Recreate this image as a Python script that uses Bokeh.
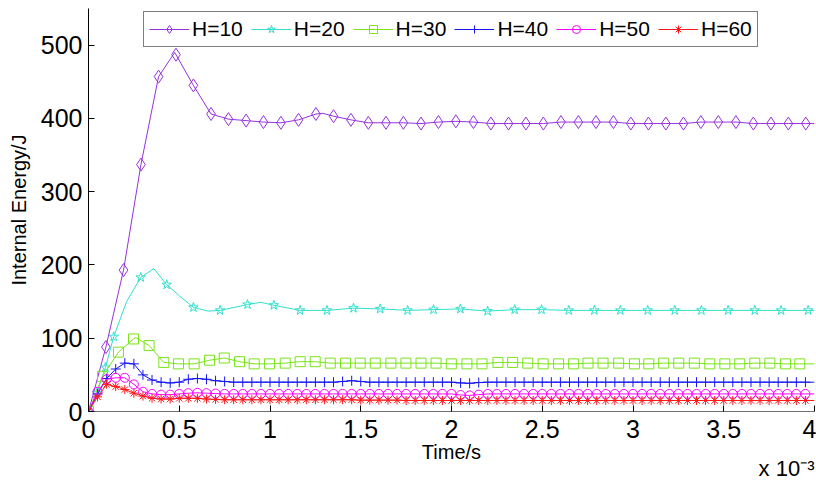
from bokeh.plotting import figure
from bokeh.models import Range1d, FixedTicker, Legend, LegendItem, Title
from bokeh.embed import file_html
from bokeh.resources import INLINE

# Time axis in units of 1e-3 s
T10 = [0.000, 0.096, 0.193, 0.289, 0.386, 0.482, 0.578, 0.675, 0.771, 0.868,
       0.964, 1.060, 1.157, 1.253, 1.350, 1.446, 1.542, 1.639, 1.735, 1.832,
       1.928, 2.024, 2.121, 2.217, 2.314, 2.410, 2.506, 2.603, 2.699, 2.796,
       2.892, 2.988, 3.085, 3.181, 3.278, 3.374, 3.470, 3.567, 3.663, 3.760,
       3.856, 3.952]
E10 = [0, 88, 193, 337, 457, 487, 445, 406, 399, 397,
       395, 394, 398, 406, 403, 398, 394, 394, 394, 393,
       395, 396, 395, 393, 393, 393, 393, 395, 395, 395,
       395, 393, 393, 393, 393, 395, 395, 395, 393, 393,
       393, 393]
T10_extra = [0.475, 1.29, 4.0]
E10_extra = [490, 407, 393]

T20 = [0.000, 0.046, 0.093, 0.139, 0.288, 0.431, 0.578, 0.725, 0.876, 1.021,
       1.166, 1.314, 1.460, 1.607, 1.758, 1.901, 2.049, 2.199, 2.348, 2.496,
       2.646, 2.787, 2.930, 3.081, 3.230, 3.377, 3.524, 3.671, 3.816, 3.965]
E20 = [0, 25, 60, 102, 183, 173, 142, 138, 146, 145,
       138, 138, 141, 140, 138, 139, 140, 137, 139, 139,
       138, 138, 138, 138, 138, 138, 138, 138, 138, 138]
T20_extra = [0.21, 0.36, 0.50, 0.66, 0.95, 4.0]
E20_extra = [150, 195, 158, 137, 149, 138]

T30 = [0.000, 0.077, 0.165, 0.248, 0.334, 0.415, 0.496, 0.582, 0.667, 0.748,
       0.832, 0.913, 0.997, 1.084, 1.166, 1.249, 1.332, 1.416, 1.497, 1.580,
       1.666, 1.749, 1.832, 1.915, 1.999, 2.085, 2.168, 2.256, 2.337, 2.420,
       2.505, 2.590, 2.673, 2.752, 2.835, 2.921, 3.008, 3.087, 3.169, 3.252,
       3.338, 3.423, 3.506, 3.588, 3.671, 3.754, 3.840, 3.919]
E30 = [0, 48, 81, 99, 90, 67, 65, 65, 70, 73,
       68, 65, 65, 66, 68, 68, 66, 66, 66, 66,
       66, 66, 66, 66, 65, 65, 65, 67, 67, 66,
       65, 65, 65, 66, 66, 66, 65, 65, 66, 66,
       66, 65, 65, 65, 66, 66, 65, 65]
T30_extra = [0.26, 4.0]
E30_extra = [101, 65]

T_DENSE = [0.00, 0.05, 0.10, 0.15, 0.20, 0.25, 0.30, 0.35, 0.40, 0.45,
           0.50, 0.55, 0.60, 0.65, 0.70, 0.75, 0.80, 0.85, 0.90, 0.95,
           1.00, 1.05, 1.10, 1.15, 1.20, 1.25, 1.30, 1.35, 1.40, 1.45,
           1.50, 1.55, 1.60, 1.65, 1.70, 1.75, 1.80, 1.85, 1.90, 1.95,
           2.00, 2.05, 2.10, 2.15, 2.20, 2.25, 2.30, 2.35, 2.40, 2.45,
           2.50, 2.55, 2.60, 2.65, 2.70, 2.75, 2.80, 2.85, 2.90, 2.95,
           3.00, 3.05, 3.10, 3.15, 3.20, 3.25, 3.30, 3.35, 3.40, 3.45,
           3.50, 3.55, 3.60, 3.65, 3.70, 3.75, 3.80, 3.85, 3.90, 3.95]
E40 = [0, 24, 45, 58, 66, 65, 50, 43, 40, 39,
       40, 44, 45, 44, 42, 41, 40, 40, 40, 40,
       40, 40, 40, 40, 40, 40, 40, 40, 41, 42,
       41, 40, 40, 40, 40, 40, 40, 40, 40, 40,
       40, 39, 38.5, 39.5, 40, 40, 40, 40, 40, 40,
       40, 40, 40, 40, 40, 40, 40, 40, 40, 40,
       40, 40, 40, 40, 40, 40, 40, 40, 40, 40,
       40, 40, 40, 40, 40, 40, 40, 40, 40, 40]
E50 = [0, 27, 44, 46, 46, 37, 27, 24, 23, 23,
       24, 25, 25.5, 25, 24.5, 24, 24, 24, 24, 24,
       24, 24, 24, 24, 24, 24, 24, 24, 24, 24,
       24, 24, 24, 24, 24, 24, 24, 24, 24, 24,
       24, 22.5, 22, 23, 24, 24, 24, 24, 24, 24,
       24, 24, 24, 24, 24, 24, 24, 24, 24, 24,
       24, 24, 24, 24, 24, 24, 24, 24, 24, 24,
       24, 24, 24, 24, 24, 24, 24, 24, 24, 24]
E60 = [0, 20, 37, 34, 30, 25, 21, 18, 17, 17,
       18, 18, 18, 17, 16.5, 16, 16, 16, 16, 16,
       16, 16, 16, 16, 16, 16, 16, 16, 16, 16,
       15.5, 15.5, 15.5, 15.5, 15.5, 15, 15, 15, 15, 15,
       15, 15, 15, 15, 15, 15, 15, 15, 15, 15,
       15, 15, 15, 15, 15, 15, 15, 15, 15, 15,
       15, 15, 15, 15, 15, 15, 15, 15, 15, 15,
       15, 15, 15, 15, 15, 15, 15, 15, 15, 15]
T_DENSE_extra = [4.0]
E40_extra = [40]
E50_extra = [24]
E60_extra = [15]

LABELS = ["H=10", "H=20", "H=30", "H=40", "H=50", "H=60"]
X_TICKS = [0, 0.5, 1, 1.5, 2, 2.5, 3, 3.5, 4]
X_TICK_LABELS = ["0", "0.5", "1", "1.5", "2", "2.5", "3", "3.5", "4"]
Y_TICKS = [0, 100, 200, 300, 400, 500]
X_SCALE_NOTE = "x 10\u207b\u00b3"

FONT = "Liberation Sans"

p = figure(width=816, height=482, output_backend="svg", toolbar_location=None,
           x_range=Range1d(0, 4), y_range=Range1d(0, 550),
           min_border_left=88, min_border_right=2, min_border_top=8,
           min_border_bottom=71)
p.outline_line_color = None
p.grid.visible = False
p.background_fill_color = "white"
p.border_fill_color = "white"

xa = p.xaxis[0]
xa.ticker = FixedTicker(ticks=X_TICKS)
xa.major_label_overrides = {t: s for t, s in zip(X_TICKS, X_TICK_LABELS)}
xa.axis_label = "Time/s"
ya = p.yaxis[0]
ya.ticker = FixedTicker(ticks=Y_TICKS)
ya.axis_label = "Internal Energy/J"
for ax in (xa, ya):
    ax.major_tick_in = 6
    ax.major_tick_out = 0
    ax.minor_tick_line_color = None
    ax.major_tick_line_color = "black"
    ax.major_label_text_font = FONT
    ax.major_label_text_font_size = "25px"
    ax.major_label_text_color = "black"
    ax.axis_label_text_font = FONT
    ax.axis_label_text_font_size = "20px"
    ax.axis_label_text_font_style = "normal"
    ax.axis_label_text_color = "black"
ya.axis_line_color = "black"
xa.axis_line_color = "#707070"
xa.major_label_standoff = 8
xa.axis_label_standoff = 0
ya.major_label_standoff = 6
ya.axis_label_standoff = 8

p.add_layout(Title(text=X_SCALE_NOTE, align="right", text_font=FONT,
                   text_font_size="22px", text_font_style="normal",
                   text_color="black", standoff=-24), "below")


def merged(t, e, te, ee):
    pts = sorted(zip(list(t) + list(te), list(e) + list(ee)))
    return [a for a, _ in pts], [b for _, b in pts]


series = [
    (T10, E10, T10_extra, E10_extra, "#9632DC", "diamond", 13),
    (T20, E20, T20_extra, E20_extra, "#30E0CC", "star", 10),
    (T30, E30, T30_extra, E30_extra, "#7AE41A", "square", 10),
    (T_DENSE, E40, T_DENSE_extra, E40_extra, "#1515F5", "cross", 10),
    (T_DENSE, E50, T_DENSE_extra, E50_extra, "#FF00FF", "circle", 9),
    (T_DENSE, E60, T_DENSE_extra, E60_extra, "#FF1A1A", "asterisk", 9),
]

items = []
for (t, e, te, ee, col, mk, sz), lab in zip(series, LABELS):
    lx, ly = merged(t, e, te, ee)
    lr = p.line(lx, ly, line_color=col, line_width=1)
    mr = p.scatter(t, e, marker=mk, size=sz, line_color=col, fill_color=None,
                   line_width=1)
    items.append(LegendItem(label=lab, renderers=[lr, mr]))

legend = Legend(items=items, orientation="horizontal", location=(55, 364),
                label_text_font=FONT, label_text_font_size="21px",
                label_text_color="black", glyph_width=40, glyph_height=20,
                label_standoff=3, spacing=8, padding=5, margin=0,
                border_line_color="black", border_line_width=1,
                background_fill_color="white", background_fill_alpha=1)
p.add_layout(legend, "center")

open("out.html", "w").write(file_html(p, INLINE))
